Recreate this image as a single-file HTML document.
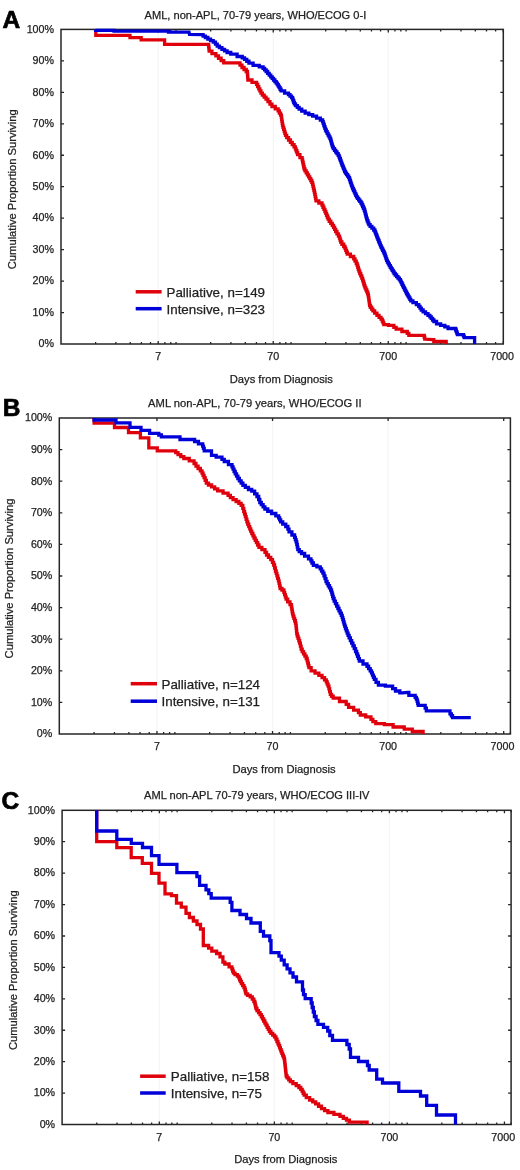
<!DOCTYPE html>
<html><head><meta charset="utf-8"><style>
html,body{margin:0;padding:0;background:#fff;}
svg{display:block;will-change:transform;}
text{font-family:"Liberation Sans",sans-serif;fill:#222222;stroke:#222222;stroke-width:0.25px;}
.tl{font-size:10.7px;}
.al{font-size:11.2px;}
.lg{font-size:13.38px;fill:#222;}
.lt{font-size:24.5px;font-weight:bold;fill:#000;stroke:#000;stroke-width:0.7px;}
</style></head><body>
<svg width="520" height="1170" viewBox="0 0 520 1170">
<rect width="520" height="1170" fill="#fff"/>
<line x1="158.21" y1="29.4" x2="158.21" y2="344" stroke="#f6f6f6" stroke-width="1.4"/>
<line x1="273.24" y1="29.4" x2="273.24" y2="344" stroke="#f6f6f6" stroke-width="1.4"/>
<line x1="388.27" y1="29.4" x2="388.27" y2="344" stroke="#f6f6f6" stroke-width="1.4"/>
<path d="M95.63,344v-2M95.63,29.4v2M115.88,344v-2M115.88,29.4v2M130.25,344v-2M130.25,29.4v2M141.4,344v-2M141.4,29.4v2M150.51,344v-2M150.51,29.4v2M158.21,344v-3M158.21,29.4v3M164.88,344v-2M164.88,29.4v2M170.77,344v-2M170.77,29.4v2M176.03,344v-2M176.03,29.4v2M210.66,344v-2M210.66,29.4v2M230.91,344v-2M230.91,29.4v2M245.28,344v-2M245.28,29.4v2M256.43,344v-2M256.43,29.4v2M265.54,344v-2M265.54,29.4v2M273.24,344v-3M273.24,29.4v3M279.91,344v-2M279.91,29.4v2M285.8,344v-2M285.8,29.4v2M291.06,344v-2M291.06,29.4v2M325.69,344v-2M325.69,29.4v2M345.94,344v-2M345.94,29.4v2M360.31,344v-2M360.31,29.4v2M371.46,344v-2M371.46,29.4v2M380.57,344v-2M380.57,29.4v2M388.27,344v-3M388.27,29.4v3M394.94,344v-2M394.94,29.4v2M400.83,344v-2M400.83,29.4v2M406.09,344v-2M406.09,29.4v2M440.72,344v-2M440.72,29.4v2M460.97,344v-2M460.97,29.4v2M475.34,344v-2M475.34,29.4v2M486.49,344v-2M486.49,29.4v2M495.6,344v-2M495.6,29.4v2M503.3,344v-3M503.3,29.4v3M61,312.54h3M503.3,312.54h-3M61,281.08h3M503.3,281.08h-3M61,249.62h3M503.3,249.62h-3M61,218.16h3M503.3,218.16h-3M61,186.7h3M503.3,186.7h-3M61,155.24h3M503.3,155.24h-3M61,123.78h3M503.3,123.78h-3M61,92.32h3M503.3,92.32h-3M61,60.86h3M503.3,60.86h-3" stroke="#262626" stroke-width="1.3" fill="none"/>
<rect x="61" y="29.4" width="442.3" height="314.6" fill="none" stroke="#262626" stroke-width="1.5"/>
<path d="M95.8,29.4 95.8,35.4 130,35.4 130,37.6 141.2,37.6 141.2,39.9 164.6,39.9 164.6,44.3 208.5,44.3 208.63,44.3 208.63,46.6 208.9,46.6 208.9,48.9 209.17,48.9 209.17,51.2 209.3,51.2 211.95,51.2 211.95,53.6 214.6,53.6 215.9,53.6 215.9,55.92 218.5,55.92 218.5,58.25 221.1,58.25 221.1,60.58 223.7,60.58 223.7,62.9 225,62.9 239,62.9 240,62.9 240,65.2 242,65.2 242,67.5 243,67.5 244.07,67.5 244.07,69.5 246.23,69.5 246.23,71.5 247.3,71.5 247.39,71.5 247.39,73.62 247.56,73.62 247.56,75.75 247.74,75.75 247.74,77.88 247.91,77.88 247.91,80 248,80 252,80 252,82.3 256,82.3 256.55,82.3 256.55,84.46 257.65,84.46 257.65,86.62 258.75,86.62 258.75,88.78 259.85,88.78 259.85,90.94 260.95,90.94 260.95,93.1 261.5,93.1 262.4,93.1 262.4,95.13 264.2,95.13 264.2,97.17 266,97.17 266,99.2 266.9,99.2 267.92,99.2 267.92,101.63 269.95,101.63 269.95,104.07 271.98,104.07 271.98,106.5 273,106.5 275.25,106.5 275.25,108.8 277.5,108.8 278.12,108.8 278.12,110.93 279.35,110.93 279.35,113.07 280.58,113.07 280.58,115.2 281.2,115.2 281.35,115.2 281.35,117.24 281.65,117.24 281.65,119.28 281.95,119.28 281.95,121.32 282.25,121.32 282.25,123.36 282.55,123.36 282.55,125.4 282.7,125.4 283.01,125.4 283.01,127.4 283.63,127.4 283.63,129.4 284.25,129.4 284.25,131.4 284.87,131.4 284.87,133.4 285.49,133.4 285.49,135.4 285.8,135.4 286.72,135.4 286.72,137.7 288.56,137.7 288.56,140 290.4,140 290.4,142.3 292.24,142.3 292.24,144.6 294.08,144.6 294.08,146.9 295,146.9 295.38,146.9 295.38,148.82 296.12,148.82 296.12,150.75 296.88,150.75 296.88,152.68 297.62,152.68 297.62,154.6 298,154.6 299.95,154.6 299.95,157.7 301.9,157.7 302.15,157.7 302.15,159.96 302.65,159.96 302.65,162.22 303.15,162.22 303.15,164.48 303.65,164.48 303.65,166.74 304.15,166.74 304.15,169 304.4,169 305,169 305,170.97 306.2,170.97 306.2,172.95 307.4,172.95 307.4,174.93 308.6,174.93 308.6,176.9 309.2,176.9 309.72,176.9 309.72,178.7 310.75,178.7 310.75,180.5 311.78,180.5 311.78,182.3 312.3,182.3 312.53,182.3 312.53,184.3 312.99,184.3 312.99,186.3 313.45,186.3 313.45,188.3 313.91,188.3 313.91,190.3 314.37,190.3 314.37,192.3 314.6,192.3 314.8,192.3 314.8,194.43 315.2,194.43 315.2,196.55 315.6,196.55 315.6,198.68 316,198.68 316,200.8 316.2,200.8 318.85,200.8 318.85,203 321.5,203 321.99,203 321.99,205.12 322.96,205.12 322.96,207.25 323.94,207.25 323.94,209.38 324.91,209.38 324.91,211.5 325.4,211.5 325.79,211.5 325.79,213.43 326.56,213.43 326.56,215.35 327.34,215.35 327.34,217.27 328.11,217.27 328.11,219.2 328.5,219.2 329.25,219.2 329.25,221.27 330.75,221.27 330.75,223.33 332.25,223.33 332.25,225.4 333,225.4 333.53,225.4 333.53,227.43 334.6,227.43 334.6,229.47 335.67,229.47 335.67,231.5 336.2,231.5 336.95,231.5 336.95,233.85 338.45,233.85 338.45,236.2 339.2,236.2 339.5,236.2 339.5,238.13 340.1,238.13 340.1,240.07 340.7,240.07 340.7,242 341,242 341.9,242 341.9,244.25 343.7,244.25 343.7,246.5 344.6,246.5 344.99,246.5 344.99,248.43 345.76,248.43 345.76,250.35 346.54,250.35 346.54,252.27 347.31,252.27 347.31,254.2 347.7,254.2 350.4,254.2 350.4,256.5 353.1,256.5 353.73,256.5 353.73,258.83 355,258.83 355,261.17 356.27,261.17 356.27,263.5 356.9,263.5 357.19,263.5 357.19,265.43 357.76,265.43 357.76,267.35 358.34,267.35 358.34,269.27 358.91,269.27 358.91,271.2 359.2,271.2 359.72,271.2 359.72,273.5 360.75,273.5 360.75,275.8 361.78,275.8 361.78,278.1 362.3,278.1 362.59,278.1 362.59,280.03 363.16,280.03 363.16,281.95 363.74,281.95 363.74,283.88 364.31,283.88 364.31,285.8 364.6,285.8 365.04,285.8 365.04,287.8 365.91,287.8 365.91,289.8 366.79,289.8 366.79,291.8 367.66,291.8 367.66,293.8 368.1,293.8 368.24,293.8 368.24,295.75 368.53,295.75 368.53,297.7 368.81,297.7 368.81,299.65 369.09,299.65 369.09,301.6 369.38,301.6 369.38,303.55 369.66,303.55 369.66,305.5 369.8,305.5 370.42,305.5 370.42,307.27 371.65,307.27 371.65,309.03 372.88,309.03 372.88,310.8 373.5,310.8 374.65,310.8 374.65,313.1 376.95,313.1 376.95,315.4 378.1,315.4 379.05,315.4 379.05,317.3 380.95,317.3 380.95,319.2 381.9,319.2 382.28,319.2 382.28,321 383.05,321 383.05,322.8 383.82,322.8 383.82,324.6 384.2,324.6 388.45,324.6 388.45,325.4 392.7,325.4 393.85,325.4 393.85,327.3 396.15,327.3 396.15,329.2 397.3,329.2 401.9,329.2 401.9,331.5 406.5,331.5 407.27,331.5 407.27,333.4 408.83,333.4 408.83,335.3 409.6,335.3 424,335.3 424.25,335.3 424.25,337.25 424.75,337.25 424.75,339.2 425,339.2 433,339.6 433.8,339.6 433.8,341.5 434.6,341.5 446.2,341.5 446.2,344" fill="none" stroke="#e0000c" stroke-width="3.3" stroke-linejoin="miter" stroke-linecap="butt"/>
<path d="M95.6,29.4 95.6,30.4 114,30.4 114,31.2 168.5,31.2 168.5,32.2 189,32.2 189.5,34.4 202,34.6 203.12,34.6 203.12,36.05 205.38,36.05 205.38,37.5 206.5,37.5 207.85,37.5 207.85,39.03 210.55,39.03 210.55,40.57 213.25,40.57 213.25,42.1 214.6,42.1 215.47,42.1 215.47,44.1 217.22,44.1 217.22,46.1 218.1,46.1 219.39,46.1 219.39,47.7 221.96,47.7 221.96,49.3 224.54,49.3 224.54,50.9 227.11,50.9 227.11,52.5 228.4,52.5 230.75,52.5 230.75,54.2 233.1,54.2 237.1,54.2 237.1,56.5 241.1,56.5 242.25,56.5 242.25,57.95 244.55,57.95 244.55,59.4 245.7,59.4 246.77,59.4 246.77,61.25 248.93,61.25 248.93,63.1 250,63.1 253.1,63.1 253.1,65.4 256.2,65.4 259.25,65.4 259.25,66.9 262.3,66.9 263.07,66.9 263.07,68.43 264.6,68.43 264.6,69.97 266.13,69.97 266.13,71.5 266.9,71.5 267.67,71.5 267.67,73.3 269.2,73.3 269.2,75.1 270.73,75.1 270.73,76.9 271.5,76.9 272.18,76.9 272.18,78.45 273.52,78.45 273.52,80 274.88,80 274.88,81.55 276.22,81.55 276.22,83.1 276.9,83.1 277.36,83.1 277.36,84.64 278.28,84.64 278.28,86.18 279.2,86.18 279.2,87.72 280.12,87.72 280.12,89.26 281.04,89.26 281.04,90.8 281.5,90.8 284.6,90.8 284.6,93.1 287.7,93.1 288.47,93.1 288.47,94.63 290,94.63 290,96.17 291.53,96.17 291.53,97.7 292.3,97.7 292.59,97.7 292.59,99.22 293.16,99.22 293.16,100.75 293.74,100.75 293.74,102.28 294.31,102.28 294.31,103.8 294.6,103.8 295.5,103.8 295.5,105.6 297.3,105.6 297.3,107.4 299.1,107.4 299.1,109.2 300,109.2 301.73,109.2 301.73,111.15 305.17,111.15 305.17,113.1 306.9,113.1 308.82,113.1 308.82,114.65 312.68,114.65 312.68,116.2 314.6,116.2 316.53,116.2 316.53,118.1 320.38,118.1 320.38,120 322.3,120 322.59,120 322.59,121.67 323.18,121.67 323.18,123.33 323.76,123.33 323.76,125 324.34,125 324.34,126.67 324.93,126.67 324.93,128.33 325.51,128.33 325.51,130 325.8,130 326.26,130 326.26,131.7 327.18,131.7 327.18,133.4 328.1,133.4 328.1,135.1 329.02,135.1 329.02,136.8 329.94,136.8 329.94,138.5 330.4,138.5 330.63,138.5 330.63,140.18 331.09,140.18 331.09,141.86 331.55,141.86 331.55,143.54 332.01,143.54 332.01,145.22 332.47,145.22 332.47,146.9 332.7,146.9 333.31,146.9 333.31,148.6 334.53,148.6 334.53,150.3 335.75,150.3 335.75,152 336.97,152 336.97,153.7 338.19,153.7 338.19,155.4 338.8,155.4 339.11,155.4 339.11,157.08 339.73,157.08 339.73,158.76 340.35,158.76 340.35,160.44 340.97,160.44 340.97,162.12 341.59,162.12 341.59,163.8 341.9,163.8 342.21,163.8 342.21,165.34 342.83,165.34 342.83,166.88 343.45,166.88 343.45,168.42 344.07,168.42 344.07,169.96 344.69,169.96 344.69,171.5 345,171.5 345.52,171.5 345.52,173.05 346.57,173.05 346.57,174.6 347.62,174.6 347.62,176.15 348.68,176.15 348.68,177.7 349.2,177.7 349.46,177.7 349.46,179.23 349.98,179.23 349.98,180.77 350.49,180.77 350.49,182.3 351.01,182.3 351.01,183.83 351.52,183.83 351.52,185.37 352.04,185.37 352.04,186.9 352.3,186.9 352.68,186.9 352.68,188.57 353.45,188.57 353.45,190.23 354.22,190.23 354.22,191.9 354.98,191.9 354.98,193.57 355.75,193.57 355.75,195.23 356.52,195.23 356.52,196.9 356.9,196.9 357.47,196.9 357.47,198.43 358.62,198.43 358.62,199.95 359.77,199.95 359.77,201.47 360.93,201.47 360.93,203 361.5,203 361.89,203 361.89,204.75 362.66,204.75 362.66,206.5 363.44,206.5 363.44,208.25 364.21,208.25 364.21,210 364.6,210 364.79,210 364.79,211.53 365.18,211.53 365.18,213.07 365.56,213.07 365.56,214.6 365.94,214.6 365.94,216.13 366.32,216.13 366.32,217.67 366.71,217.67 366.71,219.2 366.9,219.2 367.28,219.2 367.28,221 368.05,221 368.05,222.8 368.82,222.8 368.82,224.6 369.2,224.6 370.1,224.6 370.1,226.4 371.9,226.4 371.9,228.2 373.7,228.2 373.7,230 374.6,230 374.89,230 374.89,231.55 375.46,231.55 375.46,233.1 376.04,233.1 376.04,234.65 376.61,234.65 376.61,236.2 376.9,236.2 377.22,236.2 377.22,237.8 377.88,237.8 377.88,239.4 378.52,239.4 378.52,241 379.18,241 379.18,242.6 379.82,242.6 379.82,244.2 380.48,244.2 380.48,245.8 380.8,245.8 381.18,245.8 381.18,247.34 381.94,247.34 381.94,248.88 382.7,248.88 382.7,250.42 383.46,250.42 383.46,251.96 384.22,251.96 384.22,253.5 384.6,253.5 384.89,253.5 384.89,255.22 385.46,255.22 385.46,256.95 386.04,256.95 386.04,258.67 386.61,258.67 386.61,260.4 386.9,260.4 387.39,260.4 387.39,262.12 388.36,262.12 388.36,263.85 389.34,263.85 389.34,265.57 390.31,265.57 390.31,267.3 390.8,267.3 391.28,267.3 391.28,268.85 392.23,268.85 392.23,270.4 393.18,270.4 393.18,271.95 394.12,271.95 394.12,273.5 394.6,273.5 395.28,273.5 395.28,275.02 396.62,275.02 396.62,276.55 397.98,276.55 397.98,278.08 399.32,278.08 399.32,279.6 400,279.6 400.39,279.6 400.39,281.15 401.16,281.15 401.16,282.7 401.94,282.7 401.94,284.25 402.71,284.25 402.71,285.8 403.1,285.8 403.48,285.8 403.48,287.34 404.24,287.34 404.24,288.88 405,288.88 405,290.42 405.76,290.42 405.76,291.96 406.52,291.96 406.52,293.5 406.9,293.5 407.33,293.5 407.33,294.96 408.19,294.96 408.19,296.42 409.05,296.42 409.05,297.88 409.91,297.88 409.91,299.34 410.77,299.34 410.77,300.8 411.2,300.8 412.93,300.8 412.93,302.7 416.38,302.7 416.38,304.6 418.1,304.6 418.73,304.6 418.73,306.4 420,306.4 420,308.2 421.27,308.2 421.27,310 421.9,310 423.12,310 423.12,311.8 425.55,311.8 425.55,313.6 427.98,313.6 427.98,315.4 429.2,315.4 429.88,315.4 429.88,316.92 431.23,316.92 431.23,318.45 432.57,318.45 432.57,319.98 433.93,319.98 433.93,321.5 434.6,321.5 436.55,321.5 436.55,323.8 438.5,323.8 440.6,323.8 440.6,325.35 444.8,325.35 444.8,326.9 446.9,326.9 448.05,326.9 448.05,328.5 449.2,328.5 455.4,328.5 455.69,328.5 455.69,330.02 456.26,330.02 456.26,331.55 456.84,331.55 456.84,333.08 457.41,333.08 457.41,334.6 457.7,334.6 463.1,334.6 463.48,334.6 463.48,336.15 464.23,336.15 464.23,337.7 464.6,337.7 474.6,337.7 474.6,344" fill="none" stroke="#0000d8" stroke-width="3.3" stroke-linejoin="miter" stroke-linecap="butt"/>
<text x="54" y="347.3" text-anchor="end" class="tl">0%</text>
<text x="54" y="315.84" text-anchor="end" class="tl">10%</text>
<text x="54" y="284.38" text-anchor="end" class="tl">20%</text>
<text x="54" y="252.92" text-anchor="end" class="tl">30%</text>
<text x="54" y="221.46" text-anchor="end" class="tl">40%</text>
<text x="54" y="190" text-anchor="end" class="tl">50%</text>
<text x="54" y="158.54" text-anchor="end" class="tl">60%</text>
<text x="54" y="127.08" text-anchor="end" class="tl">70%</text>
<text x="54" y="95.62" text-anchor="end" class="tl">80%</text>
<text x="54" y="64.16" text-anchor="end" class="tl">90%</text>
<text x="54" y="32.7" text-anchor="end" class="tl">100%</text>
<text x="158.21" y="360.2" text-anchor="middle" class="tl">7</text>
<text x="273.24" y="360.2" text-anchor="middle" class="tl">70</text>
<text x="388.27" y="360.2" text-anchor="middle" class="tl">700</text>
<text x="502.1" y="360.2" text-anchor="middle" class="tl">7000</text>
<text x="281.35" y="382.8" text-anchor="middle" class="al">Days from Diagnosis</text>
<text transform="translate(15.5,189.3) rotate(-90)" text-anchor="middle" class="al">Cumulative Proportion Surviving</text>
<text x="144.6" y="18.8" class="al" style="font-size:11.09px">AML, non-APL, 70-79 years, WHO/ECOG 0-I</text>
<text x="2.5" y="27.6" class="lt">A</text>
<line x1="135.7" y1="291.8" x2="161.6" y2="291.8" stroke="#e0000c" stroke-width="3.5"/>
<text x="166.5" y="296.8" class="lg">Palliative, n=149</text>
<line x1="135.7" y1="308.7" x2="161.6" y2="308.7" stroke="#0000d8" stroke-width="3.5"/>
<text x="166.5" y="313.6" class="lg">Intensive, n=323</text>
<line x1="156.97" y1="418" x2="156.97" y2="734" stroke="#f6f6f6" stroke-width="1.4"/>
<line x1="272.55" y1="418" x2="272.55" y2="734" stroke="#f6f6f6" stroke-width="1.4"/>
<line x1="388.12" y1="418" x2="388.12" y2="734" stroke="#f6f6f6" stroke-width="1.4"/>
<path d="M94.09,734v-2M114.44,734v-2M128.88,734v-2M140.08,734v-2M149.23,734v-2M156.97,734v-3M156.97,418v3M163.67,734v-2M169.59,734v-2M174.88,734v-2M209.67,734v-2M230.02,734v-2M244.46,734v-2M255.66,734v-2M264.81,734v-2M272.55,734v-3M272.55,418v3M279.25,734v-2M285.16,734v-2M290.45,734v-2M325.24,734v-2M345.59,734v-2M360.03,734v-2M371.23,734v-2M380.39,734v-2M388.12,734v-3M388.12,418v3M394.82,734v-2M400.74,734v-2M406.03,734v-2M440.82,734v-2M461.17,734v-2M475.61,734v-2M486.81,734v-2M495.96,734v-2M503.7,734v-3M503.7,418v3M510.4,734v-2M59.3,702.4h3M510.4,702.4h-3M59.3,670.8h3M510.4,670.8h-3M59.3,639.2h3M510.4,639.2h-3M59.3,607.6h3M510.4,607.6h-3M59.3,576h3M510.4,576h-3M59.3,544.4h3M510.4,544.4h-3M59.3,512.8h3M510.4,512.8h-3M59.3,481.2h3M510.4,481.2h-3M59.3,449.6h3M510.4,449.6h-3" stroke="#262626" stroke-width="1.3" fill="none"/>
<rect x="59.3" y="418" width="451.1" height="316" fill="none" stroke="#262626" stroke-width="1.5"/>
<path d="M94.1,418 94.1,423.1 114.5,423.1 114.5,427.5 128.5,427.5 128.5,432.6 140.4,432.6 140.4,437.8 148.8,437.8 148.8,447.8 157.3,447.8 157.3,450.8 174.6,450.8 175.75,450.8 175.75,452.7 178.05,452.7 178.05,454.6 179.2,454.6 180.75,454.6 180.75,456.55 183.85,456.55 183.85,458.5 185.4,458.5 189.25,458.5 189.25,460.8 193.1,460.8 194.05,460.8 194.05,463.5 195.95,463.5 195.95,466.2 196.9,466.2 198.05,466.2 198.05,468.5 200.35,468.5 200.35,470.8 201.5,470.8 202.02,470.8 202.02,473.1 203.05,473.1 203.05,475.4 204.08,475.4 204.08,477.7 204.6,477.7 205.18,477.7 205.18,480.4 206.32,480.4 206.32,483.1 206.9,483.1 208.45,483.1 208.45,485 211.55,485 211.55,486.9 213.1,486.9 214.62,486.9 214.62,488.85 217.67,488.85 217.67,490.8 219.2,490.8 223.05,490.8 223.05,493.1 226.9,493.1 228.05,493.1 228.05,495.4 230.35,495.4 230.35,497.7 231.5,497.7 233.05,497.7 233.05,499.6 236.15,499.6 236.15,501.5 237.7,501.5 238.85,501.5 238.85,503.45 241.15,503.45 241.15,505.4 242.3,505.4 242.78,505.4 242.78,508.45 243.72,508.45 243.72,511.5 244.2,511.5 244.59,511.5 244.59,514.1 245.36,514.1 245.36,516.7 246.14,516.7 246.14,519.3 246.91,519.3 246.91,521.9 247.3,521.9 247.79,521.9 247.79,524.23 248.76,524.23 248.76,526.55 249.74,526.55 249.74,528.88 250.71,528.88 250.71,531.2 251.2,531.2 251.77,531.2 251.77,533.5 252.93,533.5 252.93,535.8 254.07,535.8 254.07,538.1 255.23,538.1 255.23,540.4 255.8,540.4 256.43,540.4 256.43,542.7 257.7,542.7 257.7,545 258.97,545 258.97,547.3 259.6,547.3 261.9,547.3 261.9,549.6 264.2,549.6 264.98,549.6 264.98,552.3 266.52,552.3 266.52,555 267.3,555 268.45,555 268.45,557.3 270.75,557.3 270.75,559.6 271.9,559.6 272.47,559.6 272.47,562.3 273.62,562.3 273.62,565 274.2,565 274.6,565 274.6,568 275.4,568 275.4,571 275.8,571 276.18,571 276.18,573.45 276.93,573.45 276.93,575.9 277.68,575.9 277.68,578.35 278.43,578.35 278.43,580.8 278.8,580.8 279.07,580.8 279.07,583.37 279.6,583.37 279.6,585.93 280.13,585.93 280.13,588.5 280.4,588.5 281.95,588.5 281.95,590 283.5,590 283.88,590 283.88,592.3 284.62,592.3 284.62,594.6 285.38,594.6 285.38,596.9 286.12,596.9 286.12,599.2 286.5,599.2 287.68,599.2 287.68,601.9 290.02,601.9 290.02,604.6 291.2,604.6 291.39,604.6 291.39,606.9 291.76,606.9 291.76,609.2 292.14,609.2 292.14,611.5 292.51,611.5 292.51,613.8 292.7,613.8 293.09,613.8 293.09,616.12 293.86,616.12 293.86,618.45 294.64,618.45 294.64,620.77 295.41,620.77 295.41,623.1 295.8,623.1 295.94,623.1 295.94,625.77 296.21,625.77 296.21,628.45 296.49,628.45 296.49,631.12 296.76,631.12 296.76,633.8 296.9,633.8 297.29,633.8 297.29,636.12 298.06,636.12 298.06,638.45 298.84,638.45 298.84,640.77 299.61,640.77 299.61,643.1 300,643.1 300.38,643.1 300.38,646.15 301.12,646.15 301.12,649.2 301.5,649.2 302.18,649.2 302.18,651.53 303.52,651.53 303.52,653.85 304.88,653.85 304.88,656.17 306.22,656.17 306.22,658.5 306.9,658.5 307.19,658.5 307.19,660.8 307.76,660.8 307.76,663.1 308.34,663.1 308.34,665.4 308.91,665.4 308.91,667.7 309.2,667.7 311.15,667.7 311.15,670.8 313.1,670.8 315.03,670.8 315.03,673.1 318.88,673.1 318.88,675.4 320.8,675.4 322.05,675.4 322.05,677.6 324.55,677.6 324.55,679.8 325.8,679.8 326.27,679.8 326.27,681.93 327.2,681.93 327.2,684.07 328.13,684.07 328.13,686.2 328.6,686.2 328.95,686.2 328.95,688.9 329.65,688.9 329.65,691.6 330.35,691.6 330.35,694.3 330.7,694.3 331.52,694.3 331.52,696.25 333.18,696.25 333.18,698.2 334,698.2 339.5,698.2 339.5,701.5 345,701.5 346.2,701.5 346.2,704.4 348.6,704.4 348.6,707.3 349.8,707.3 353.65,707.3 353.65,710.2 357.5,710.2 358.45,710.2 358.45,712.6 360.35,712.6 360.35,715 361.3,715 365.65,715 365.65,716.9 370,716.9 370.95,716.9 370.95,719.3 372.85,719.3 372.85,721.7 373.8,721.7 375.75,721.7 375.75,723.7 377.7,723.7 384.45,723.7 384.45,724.6 391.2,724.6 393.1,724.6 393.1,727 395,727 403.1,726.9 404.25,726.9 404.25,729.2 405.4,729.2 411.5,729.2 412.3,729.2 412.3,731.5 413.1,731.5 423.1,731.5 423.1,734" fill="none" stroke="#e0000c" stroke-width="3.3" stroke-linejoin="miter" stroke-linecap="butt"/>
<path d="M94.1,418 94.1,420 116,420 116,422.8 130,422.8 130,427.3 141,427.3 141,430.3 149.6,430.3 149.6,433.3 158.8,433.3 158.8,435 161.4,435 161.4,436.9 164,436.9 180,436.9 180,439.5 194.6,439.5 194.6,441.5 198.45,441.5 198.45,443.8 202.3,443.8 202.68,443.8 202.68,446.13 203.45,446.13 203.45,448.47 204.22,448.47 204.22,450.8 204.6,450.8 211.5,450.8 211.5,455.4 216.15,455.4 216.15,457.2 220.8,457.2 221.95,457.2 221.95,459.35 224.25,459.35 224.25,461.5 225.4,461.5 228.45,461.5 228.45,464.6 231.5,464.6 232.02,464.6 232.02,466.9 233.05,466.9 233.05,469.2 234.08,469.2 234.08,471.5 234.6,471.5 235.25,471.5 235.25,473.83 236.55,473.83 236.55,476.17 237.85,476.17 237.85,478.5 238.5,478.5 239.38,478.5 239.38,480.8 241.15,480.8 241.15,483.1 242.92,483.1 242.92,485.4 243.8,485.4 245.35,485.4 245.35,487.45 248.45,487.45 248.45,489.5 250,489.5 251.75,489.5 251.75,491.2 253.5,491.2 254.65,491.2 254.65,493.85 256.95,493.85 256.95,496.5 258.1,496.5 258.68,496.5 258.68,499.5 259.82,499.5 259.82,502.5 260.4,502.5 261.3,502.5 261.3,504.67 263.1,504.67 263.1,506.83 264.9,506.83 264.9,509 265.8,509 267.73,509 267.73,511.25 271.57,511.25 271.57,513.5 273.5,513.5 275.8,513.5 275.8,515.8 278.1,515.8 278.62,515.8 278.62,517.83 279.65,517.83 279.65,519.87 280.68,519.87 280.68,521.9 281.2,521.9 282.73,521.9 282.73,524.2 285.77,524.2 285.77,526.5 287.3,526.5 287.88,526.5 287.88,529.2 289.03,529.2 289.03,531.9 289.6,531.9 291.9,531.9 291.9,535 294.2,535 294.58,535 294.58,537.3 295.35,537.3 295.35,539.6 296.12,539.6 296.12,541.9 296.5,541.9 296.77,541.9 296.77,544.47 297.3,544.47 297.3,547.03 297.83,547.03 297.83,549.6 298.1,549.6 299.25,549.6 299.25,551.55 301.55,551.55 301.55,553.5 302.7,553.5 304.62,553.5 304.62,556.15 308.47,556.15 308.47,558.8 310.4,558.8 310.92,558.8 310.92,560.9 311.98,560.9 311.98,563 312.5,563 313.35,563 313.35,565.4 314.2,565.4 316.9,565.4 316.9,566.9 319.6,566.9 320.25,566.9 320.25,568.97 321.55,568.97 321.55,571.03 322.85,571.03 322.85,573.1 323.5,573.1 324,573.1 324,575.9 325,575.9 325,578.7 326,578.7 326,581.5 326.5,581.5 327.09,581.5 327.09,583.62 328.26,583.62 328.26,585.75 329.44,585.75 329.44,587.88 330.61,587.88 330.61,590 331.2,590 331.49,590 331.49,592.12 332.06,592.12 332.06,594.25 332.64,594.25 332.64,596.38 333.21,596.38 333.21,598.5 333.5,598.5 334.13,598.5 334.13,601.07 335.4,601.07 335.4,603.63 336.67,603.63 336.67,606.2 337.3,606.2 337.88,606.2 337.88,608.5 339.02,608.5 339.02,610.8 340.18,610.8 340.18,613.1 341.32,613.1 341.32,615.4 341.9,615.4 342.21,615.4 342.21,617.56 342.83,617.56 342.83,619.72 343.45,619.72 343.45,621.88 344.07,621.88 344.07,624.04 344.69,624.04 344.69,626.2 345,626.2 345.44,626.2 345.44,628.5 346.31,628.5 346.31,630.8 347.19,630.8 347.19,633.1 348.06,633.1 348.06,635.4 348.5,635.4 349.13,635.4 349.13,637.97 350.4,637.97 350.4,640.53 351.67,640.53 351.67,643.1 352.3,643.1 352.95,643.1 352.95,645.9 354.25,645.9 354.25,648.7 355.55,648.7 355.55,651.5 356.2,651.5 356.65,651.5 356.65,653.88 357.55,653.88 357.55,656.25 358.45,656.25 358.45,658.62 359.35,658.62 359.35,661 359.8,661 363,661 363,664 366.2,664 367,664 367,666.27 368.6,666.27 368.6,668.53 370.2,668.53 370.2,670.8 371,670.8 371.48,670.8 371.48,672.95 372.43,672.95 372.43,675.1 373.38,675.1 373.38,677.25 374.32,677.25 374.32,679.4 374.8,679.4 376,679.4 376,682.3 378.4,682.3 378.4,685.2 379.6,685.2 385.4,685.2 385.4,686.2 391.2,686.2 392.62,686.2 392.62,688.6 395.47,688.6 395.47,691 396.9,691 399.8,691 399.8,692.9 402.7,692.9 407.7,692.3 408.85,692.3 408.85,695.4 410,695.4 414.6,695.4 415.18,695.4 415.18,697.3 416.32,697.3 416.32,699.2 416.9,699.2 417.17,699.2 417.17,701.27 417.7,701.27 417.7,703.33 418.23,703.33 418.23,705.4 418.5,705.4 424.6,705.4 425.18,705.4 425.18,708.1 426.32,708.1 426.32,710.8 426.9,710.8 449.2,710.8 450,710.8 450,713.8 450.8,713.8 451.38,713.8 451.38,715.75 452.53,715.75 452.53,717.7 453.1,717.7 470.8,717.7" fill="none" stroke="#0000d8" stroke-width="3.3" stroke-linejoin="miter" stroke-linecap="butt"/>
<text x="52.3" y="737.3" text-anchor="end" class="tl">0%</text>
<text x="52.3" y="705.7" text-anchor="end" class="tl">10%</text>
<text x="52.3" y="674.1" text-anchor="end" class="tl">20%</text>
<text x="52.3" y="642.5" text-anchor="end" class="tl">30%</text>
<text x="52.3" y="610.9" text-anchor="end" class="tl">40%</text>
<text x="52.3" y="579.3" text-anchor="end" class="tl">50%</text>
<text x="52.3" y="547.7" text-anchor="end" class="tl">60%</text>
<text x="52.3" y="516.1" text-anchor="end" class="tl">70%</text>
<text x="52.3" y="484.5" text-anchor="end" class="tl">80%</text>
<text x="52.3" y="452.9" text-anchor="end" class="tl">90%</text>
<text x="52.3" y="421.3" text-anchor="end" class="tl">100%</text>
<text x="156.97" y="750.2" text-anchor="middle" class="tl">7</text>
<text x="272.55" y="750.2" text-anchor="middle" class="tl">70</text>
<text x="388.12" y="750.2" text-anchor="middle" class="tl">700</text>
<text x="502.5" y="750.2" text-anchor="middle" class="tl">7000</text>
<text x="284.05" y="772.8" text-anchor="middle" class="al">Days from Diagnosis</text>
<text transform="translate(13.35,578.5) rotate(-90)" text-anchor="middle" class="al">Cumulative Proportion Surviving</text>
<text x="148.1" y="406.9" class="al" style="font-size:11.2px">AML non-APL, 70-79 years, WHO/ECOG II</text>
<text x="2.8" y="416.4" class="lt">B</text>
<line x1="130.7" y1="683.7" x2="157" y2="683.7" stroke="#e0000c" stroke-width="3.5"/>
<text x="161.5" y="688.6" class="lg">Palliative, n=124</text>
<line x1="130.7" y1="701.2" x2="157" y2="701.2" stroke="#0000d8" stroke-width="3.5"/>
<text x="161.5" y="706" class="lg">Intensive, n=131</text>
<line x1="159.32" y1="810.3" x2="159.32" y2="1124.5" stroke="#f6f6f6" stroke-width="1.4"/>
<line x1="274.35" y1="810.3" x2="274.35" y2="1124.5" stroke="#f6f6f6" stroke-width="1.4"/>
<line x1="389.39" y1="810.3" x2="389.39" y2="1124.5" stroke="#f6f6f6" stroke-width="1.4"/>
<path d="M96.73,1124.5v-2M96.73,810.3v2M116.99,1124.5v-2M116.99,810.3v2M131.36,1124.5v-2M131.36,810.3v2M142.51,1124.5v-2M142.51,810.3v2M151.62,1124.5v-2M151.62,810.3v2M159.32,1124.5v-3M159.32,810.3v3M165.99,1124.5v-2M165.99,810.3v2M171.87,1124.5v-2M171.87,810.3v2M177.14,1124.5v-2M177.14,810.3v2M211.77,1124.5v-2M211.77,810.3v2M232.02,1124.5v-2M232.02,810.3v2M246.4,1124.5v-2M246.4,810.3v2M257.54,1124.5v-2M257.54,810.3v2M266.65,1124.5v-2M266.65,810.3v2M274.35,1124.5v-3M274.35,810.3v3M281.03,1124.5v-2M281.03,810.3v2M286.91,1124.5v-2M286.91,810.3v2M292.17,1124.5v-2M292.17,810.3v2M326.8,1124.5v-2M326.8,810.3v2M347.06,1124.5v-2M347.06,810.3v2M361.43,1124.5v-2M361.43,810.3v2M372.58,1124.5v-2M372.58,810.3v2M381.69,1124.5v-2M381.69,810.3v2M389.39,1124.5v-3M389.39,810.3v3M396.06,1124.5v-2M396.06,810.3v2M401.95,1124.5v-2M401.95,810.3v2M407.21,1124.5v-2M407.21,810.3v2M441.84,1124.5v-2M441.84,810.3v2M462.1,1124.5v-2M462.1,810.3v2M476.47,1124.5v-2M476.47,810.3v2M487.62,1124.5v-2M487.62,810.3v2M496.73,1124.5v-2M496.73,810.3v2M504.43,1124.5v-3M504.43,810.3v3M511.1,1124.5v-2M511.1,810.3v2M62.1,1093.08h3M511.1,1093.08h-3M62.1,1061.66h3M511.1,1061.66h-3M62.1,1030.24h3M511.1,1030.24h-3M62.1,998.82h3M511.1,998.82h-3M62.1,967.4h3M511.1,967.4h-3M62.1,935.98h3M511.1,935.98h-3M62.1,904.56h3M511.1,904.56h-3M62.1,873.14h3M511.1,873.14h-3M62.1,841.72h3M511.1,841.72h-3" stroke="#262626" stroke-width="1.3" fill="none"/>
<rect x="62.1" y="810.3" width="449" height="314.2" fill="none" stroke="#262626" stroke-width="1.5"/>
<path d="M96.7,810.3 96.7,841.7 116.8,841.7 116.8,847.7 131.2,847.7 131.2,857.7 142.3,857.7 142.3,863.4 151.5,863.4 151.5,873.3 159,873.3 159,883.1 165,883.1 165,893.8 171.5,893.8 171.5,895.6 176.5,895.6 176.5,903.1 181.3,903.1 181.3,907.1 186,907.1 186,913.4 189.4,913.4 189.4,917.5 193.4,917.5 193.4,921 197,921 197,924.5 200.5,924.5 200.5,929 203.3,929 203.3,945.5 208.6,945.5 208.6,948.2 211.8,948.2 211.8,951.1 216.6,951.1 216.6,953.5 220,953.5 220,956.8 222.9,956.8 222.9,962.1 224.8,962.1 224.8,964 226.7,964 229.1,964 229.1,966.9 231.5,966.9 231.88,966.9 231.88,968.97 232.65,968.97 232.65,971.03 233.42,971.03 233.42,973.1 233.8,973.1 234.98,973.1 234.98,974.65 237.32,974.65 237.32,976.2 238.5,976.2 238.88,976.2 238.88,977.97 239.65,977.97 239.65,979.73 240.42,979.73 240.42,981.5 240.8,981.5 241.43,981.5 241.43,983.57 242.7,983.57 242.7,985.63 243.97,985.63 243.97,987.7 244.6,987.7 244.87,987.7 244.87,989.73 245.4,989.73 245.4,991.77 245.93,991.77 245.93,993.8 246.2,993.8 247.52,993.8 247.52,995.35 250.18,995.35 250.18,996.9 251.5,996.9 252.28,996.9 252.28,999.2 253.82,999.2 253.82,1001.5 254.6,1001.5 254.8,1001.5 254.8,1003.25 255.2,1003.25 255.2,1005 255.6,1005 255.6,1006.75 256,1006.75 256,1008.5 256.2,1008.5 256.97,1008.5 256.97,1010.53 258.5,1010.53 258.5,1012.57 260.03,1012.57 260.03,1014.6 260.8,1014.6 261.38,1014.6 261.38,1016.73 262.52,1016.73 262.52,1018.85 263.68,1018.85 263.68,1020.98 264.82,1020.98 264.82,1023.1 265.4,1023.1 265.97,1023.1 265.97,1025.2 267.12,1025.2 267.12,1027.3 268.27,1027.3 268.27,1029.4 269.43,1029.4 269.43,1031.5 270,1031.5 270.9,1031.5 270.9,1033.3 272.7,1033.3 272.7,1035.1 274.5,1035.1 274.5,1036.9 275.4,1036.9 275.92,1036.9 275.92,1039.2 276.95,1039.2 276.95,1041.5 277.98,1041.5 277.98,1043.8 278.5,1043.8 278.88,1043.8 278.88,1045.72 279.62,1045.72 279.62,1047.65 280.38,1047.65 280.38,1049.58 281.12,1049.58 281.12,1051.5 281.5,1051.5 281.86,1051.5 281.86,1053.3 282.59,1053.3 282.59,1055.1 283.31,1055.1 283.31,1056.9 284.04,1056.9 284.04,1058.7 284.4,1058.7 284.51,1058.7 284.51,1060.62 284.72,1060.62 284.72,1062.54 284.93,1062.54 284.93,1064.47 285.14,1064.47 285.14,1066.39 285.35,1066.39 285.35,1068.31 285.56,1068.31 285.56,1070.23 285.77,1070.23 285.77,1072.16 285.98,1072.16 285.98,1074.08 286.19,1074.08 286.19,1076 286.3,1076 287.12,1076 287.12,1077.9 288.75,1077.9 288.75,1079.8 290.38,1079.8 290.38,1081.7 291.2,1081.7 292.88,1081.7 292.88,1083.65 296.22,1083.65 296.22,1085.6 297.9,1085.6 298.85,1085.6 298.85,1087.5 300.75,1087.5 300.75,1089.4 301.7,1089.4 302.18,1089.4 302.18,1091.33 303.15,1091.33 303.15,1093.27 304.12,1093.27 304.12,1095.2 304.6,1095.2 306.28,1095.2 306.28,1097.6 309.62,1097.6 309.62,1100 311.3,1100 312.75,1100 312.75,1101.9 315.65,1101.9 315.65,1103.8 317.1,1103.8 318.55,1103.8 318.55,1106.25 321.45,1106.25 321.45,1108.7 322.9,1108.7 324.57,1108.7 324.57,1110.6 327.93,1110.6 327.93,1112.5 329.6,1112.5 333.95,1112.5 333.95,1114.4 338.3,1114.4 339.98,1114.4 339.98,1116.35 343.32,1116.35 343.32,1118.3 345,1118.3 346.45,1118.3 346.45,1120.2 349.35,1120.2 349.35,1122.1 350.8,1122.1 367.1,1122.1 367.1,1124.5" fill="none" stroke="#e0000c" stroke-width="3.3" stroke-linejoin="miter" stroke-linecap="butt"/>
<path d="M96.7,810.3 96.7,831 116.8,831 116.8,839.4 131.3,839.4 131.3,843.3 142.5,843.3 142.5,847.5 151.5,847.5 151.5,855.6 159,855.6 159,864.4 176.9,864.4 176.9,872.6 196.9,872.6 196.9,876.5 199.6,876.5 199.6,885.4 206,885.4 206,889.8 208.8,889.8 208.8,893.7 211.2,893.7 211.2,898.2 230.2,898.2 230.2,902.3 231.9,902.3 231.9,910.5 240,910.5 240,914.5 246.5,914.5 246.5,918.5 251,918.5 251,923 260.3,923 260.3,931.3 263.5,931.3 263.5,936 269.8,936 269.8,940.6 271,940.6 271,952.7 279,952.7 279,956.1 281.3,956.1 281.3,960.2 284.2,960.2 284.2,964.8 287.1,964.8 287.1,968.8 290,968.8 290,972.8 293,972.8 293,977 296.5,977 296.5,981.8 302.5,981.8 302.5,990 303.5,990 303.5,994.6 305.2,994.6 305.2,998.7 311.2,998.7 311.2,1003 312.2,1003 312.2,1007.5 313.3,1007.5 313.3,1012 314.4,1012 314.4,1016.5 316.1,1016.5 316.1,1020.5 317.9,1020.5 317.9,1024.3 323.5,1024.3 323.5,1027.4 327.7,1027.4 327.7,1031 329.8,1031 329.8,1035.5 332.5,1035.5 332.5,1040.4 346.9,1040.4 346.9,1044.5 349.2,1044.5 349.2,1049 350.5,1049 350.5,1057.3 358.5,1057.3 358.5,1061.5 367.5,1061.5 367.5,1065.5 369.2,1065.5 369.2,1070 376.7,1070 376.7,1079.2 382.5,1079.2 382.5,1083 398.8,1083 398.8,1091.4 420.5,1091.4 420.5,1096 426.7,1096 426.7,1105.4 436.5,1105.4 436.5,1115 455.5,1115 455.5,1124.5" fill="none" stroke="#0000d8" stroke-width="3.3" stroke-linejoin="miter" stroke-linecap="butt"/>
<text x="55.1" y="1127.8" text-anchor="end" class="tl">0%</text>
<text x="55.1" y="1096.38" text-anchor="end" class="tl">10%</text>
<text x="55.1" y="1064.96" text-anchor="end" class="tl">20%</text>
<text x="55.1" y="1033.54" text-anchor="end" class="tl">30%</text>
<text x="55.1" y="1002.12" text-anchor="end" class="tl">40%</text>
<text x="55.1" y="970.7" text-anchor="end" class="tl">50%</text>
<text x="55.1" y="939.28" text-anchor="end" class="tl">60%</text>
<text x="55.1" y="907.86" text-anchor="end" class="tl">70%</text>
<text x="55.1" y="876.44" text-anchor="end" class="tl">80%</text>
<text x="55.1" y="845.02" text-anchor="end" class="tl">90%</text>
<text x="55.1" y="813.6" text-anchor="end" class="tl">100%</text>
<text x="159.32" y="1140.7" text-anchor="middle" class="tl">7</text>
<text x="274.35" y="1140.7" text-anchor="middle" class="tl">70</text>
<text x="389.39" y="1140.7" text-anchor="middle" class="tl">700</text>
<text x="503.23" y="1140.7" text-anchor="middle" class="tl">7000</text>
<text x="285.8" y="1163.3" text-anchor="middle" class="al">Days from Diagnosis</text>
<text transform="translate(16.5,970.1) rotate(-90)" text-anchor="middle" class="al">Cumulative Proportion Surviving</text>
<text x="144" y="799" class="al" style="font-size:11.1px">AML non-APL 70-79 years, WHO/ECOG III-IV</text>
<text x="1.5" y="808.8" class="lt">C</text>
<line x1="140.1" y1="1076.2" x2="165.7" y2="1076.2" stroke="#e0000c" stroke-width="3.5"/>
<text x="170.8" y="1081.3" class="lg">Palliative, n=158</text>
<line x1="140.1" y1="1093" x2="165.7" y2="1093" stroke="#0000d8" stroke-width="3.5"/>
<text x="170.8" y="1097.7" class="lg">Intensive, n=75</text>
</svg>
</body></html>
